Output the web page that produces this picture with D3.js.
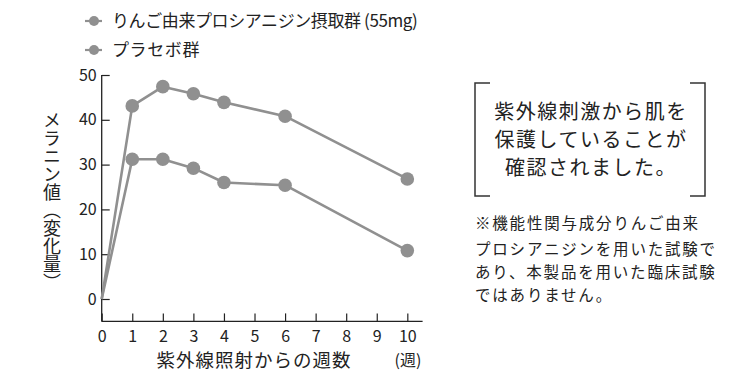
<!DOCTYPE html>
<html><head><meta charset="utf-8">
<script src="https://cdn.jsdelivr.net/npm/d3@7"></script>
<style>
html,body{margin:0;padding:0;background:#fff;}
svg{display:block;font-family:"Noto Sans CJK JP","Noto Sans",sans-serif;}
</style></head>
<body><svg id="chart" width="750" height="380"></svg>
<script>
const weeks = [0, 1, 2, 3, 4, 6, 10];
const appleValues = [0, 43.1, 47.4, 45.8, 43.9, 40.8, 26.8];
const placeboValues = [0, 31.2, 31.2, 29.2, 26.0, 25.4, 10.8];
const seriesNames = ["りんご由来プロシアニジン摂取群 (55mg)", "プラセボ群"];
const xTicks = [0, 1, 2, 3, 4, 5, 6, 7, 8, 9, 10];
const yTicks = [0, 10, 20, 30, 40, 50];
const yTitle = "メラニン値（変化量）";
const xTitle = "紫外線照射からの週数";
const xUnit = "(週)";
const boxLines = ["紫外線刺激から肌を", "保護していることが", "確認されました。"];
const noteLines = ["※機能性関与成分りんご由来", "プロシアニジンを用いた試験で", "あり、本製品を用いた臨床試験", "ではありません。"];

const svg = d3.select("#chart");
const gray = "#909090";
const ink = "#222";

const x = d3.scaleLinear().domain([0, 10.5]).range([101.7, 422.6]);
const y = d3.scaleLinear().domain([-5, 50]).range([321.4, 75]);

// axis lines
svg.append("line").attr("x1", x(0)).attr("x2", x(0)).attr("y1", y(50)).attr("y2", y(-5))
  .attr("stroke", ink).attr("stroke-width", 1.3);
svg.append("line").attr("x1", x(0)).attr("x2", x(10.5)).attr("y1", y(-5)).attr("y2", y(-5))
  .attr("stroke", ink).attr("stroke-width", 1.3);

const yAxis = d3.axisLeft(y).tickValues(yTicks).tickSizeInner(-8).tickSizeOuter(0).tickPadding(5);
const gy = svg.append("g").attr("transform", `translate(${x(0)},0)`).call(yAxis);
gy.select(".domain").remove();
gy.selectAll("line").attr("stroke", ink).attr("stroke-width", 1.2);
gy.selectAll("text").attr("font-size", 16).attr("fill", ink).attr("font-family", "'Noto Sans CJK JP'");

const xAxis = d3.axisBottom(x).tickValues(xTicks).tickSizeInner(-8).tickSizeOuter(0).tickPadding(9);
const gx = svg.append("g").attr("transform", `translate(0,${y(-5)})`).call(xAxis);
gx.select(".domain").remove();
gx.selectAll("line").attr("stroke", ink).attr("stroke-width", 1.2);
gx.selectAll("text").attr("font-size", 16).attr("fill", ink).attr("font-family", "'Noto Sans CJK JP'");

// series
const line = d3.line().x((d, i) => x(weeks[i])).y(d => y(d));
[appleValues, placeboValues].forEach(vals => {
  svg.append("path").attr("d", line(vals)).attr("fill", "none")
    .attr("stroke", gray).attr("stroke-width", 2.6).attr("stroke-linejoin", "round");
  svg.selectAll(null).data(vals.map((v, i) => ({w: weeks[i], v})).filter(d => d.w > 0))
    .enter().append("circle")
    .attr("cx", d => x(d.w)).attr("cy", d => y(d.v)).attr("r", 6.8).attr("fill", gray);
});

// legend
const legendY = [21, 50];
seriesNames.forEach((name, i) => {
  const g = svg.append("g").attr("transform", `translate(0,${legendY[i]})`);
  g.append("line").attr("x1", 85).attr("x2", 102).attr("y1", 0).attr("y2", 0)
    .attr("stroke", gray).attr("stroke-width", 2.2);
  g.append("circle").attr("cx", 94).attr("cy", 0).attr("r", 5).attr("fill", gray);
  g.append("text").attr("x", 112).attr("y", 0).attr("dy", "0.36em")
    .attr("font-size", 17).attr("letter-spacing", i === 0 ? -0.4 : 0.6)
    .attr("fill", ink).text(name);
});

// y title (vertical writing)
svg.append("text").attr("x", 52).attr("y", 201)
  .attr("text-anchor", "middle")
  .style("writing-mode", "vertical-rl")
  .attr("font-size", 18).attr("fill", ink).text(yTitle);

// x title
svg.append("text").attr("x", 254).attr("y", 360).attr("dy", "0.36em")
  .attr("text-anchor", "middle").attr("font-size", 18.5).attr("fill", ink)
  .attr("letter-spacing", 1).text(xTitle);
svg.append("text").attr("x", 408).attr("y", 360).attr("dy", "0.36em")
  .attr("text-anchor", "middle").attr("font-size", 16).attr("fill", ink).text(xUnit);

// bracket box
const bx0 = 475, bx1 = 705, by0 = 83, by1 = 196, arm = 15;
svg.append("path")
  .attr("d", `M${bx0 + arm},${by0}H${bx0}V${by1}H${bx0 + arm}M${bx1 - arm},${by0}H${bx1}V${by1}H${bx1 - arm}`)
  .attr("fill", "none").attr("stroke", "#333").attr("stroke-width", 1.5);
const boxY = [112, 140, 168];
boxLines.forEach((t, i) => {
  svg.append("text").attr("x", 591).attr("y", boxY[i]).attr("dy", "0.36em")
    .attr("text-anchor", "middle").attr("font-size", 20).attr("letter-spacing", 1.5)
    .attr("fill", ink).text(t);
});

// notes
const noteY = [223, 249, 272, 295];
noteLines.forEach((t, i) => {
  svg.append("text").attr("x", 475).attr("y", noteY[i]).attr("dy", "0.36em")
    .attr("font-size", 15.5).attr("letter-spacing", 1.8).attr("fill", ink).text(t);
});
</script></body></html>
